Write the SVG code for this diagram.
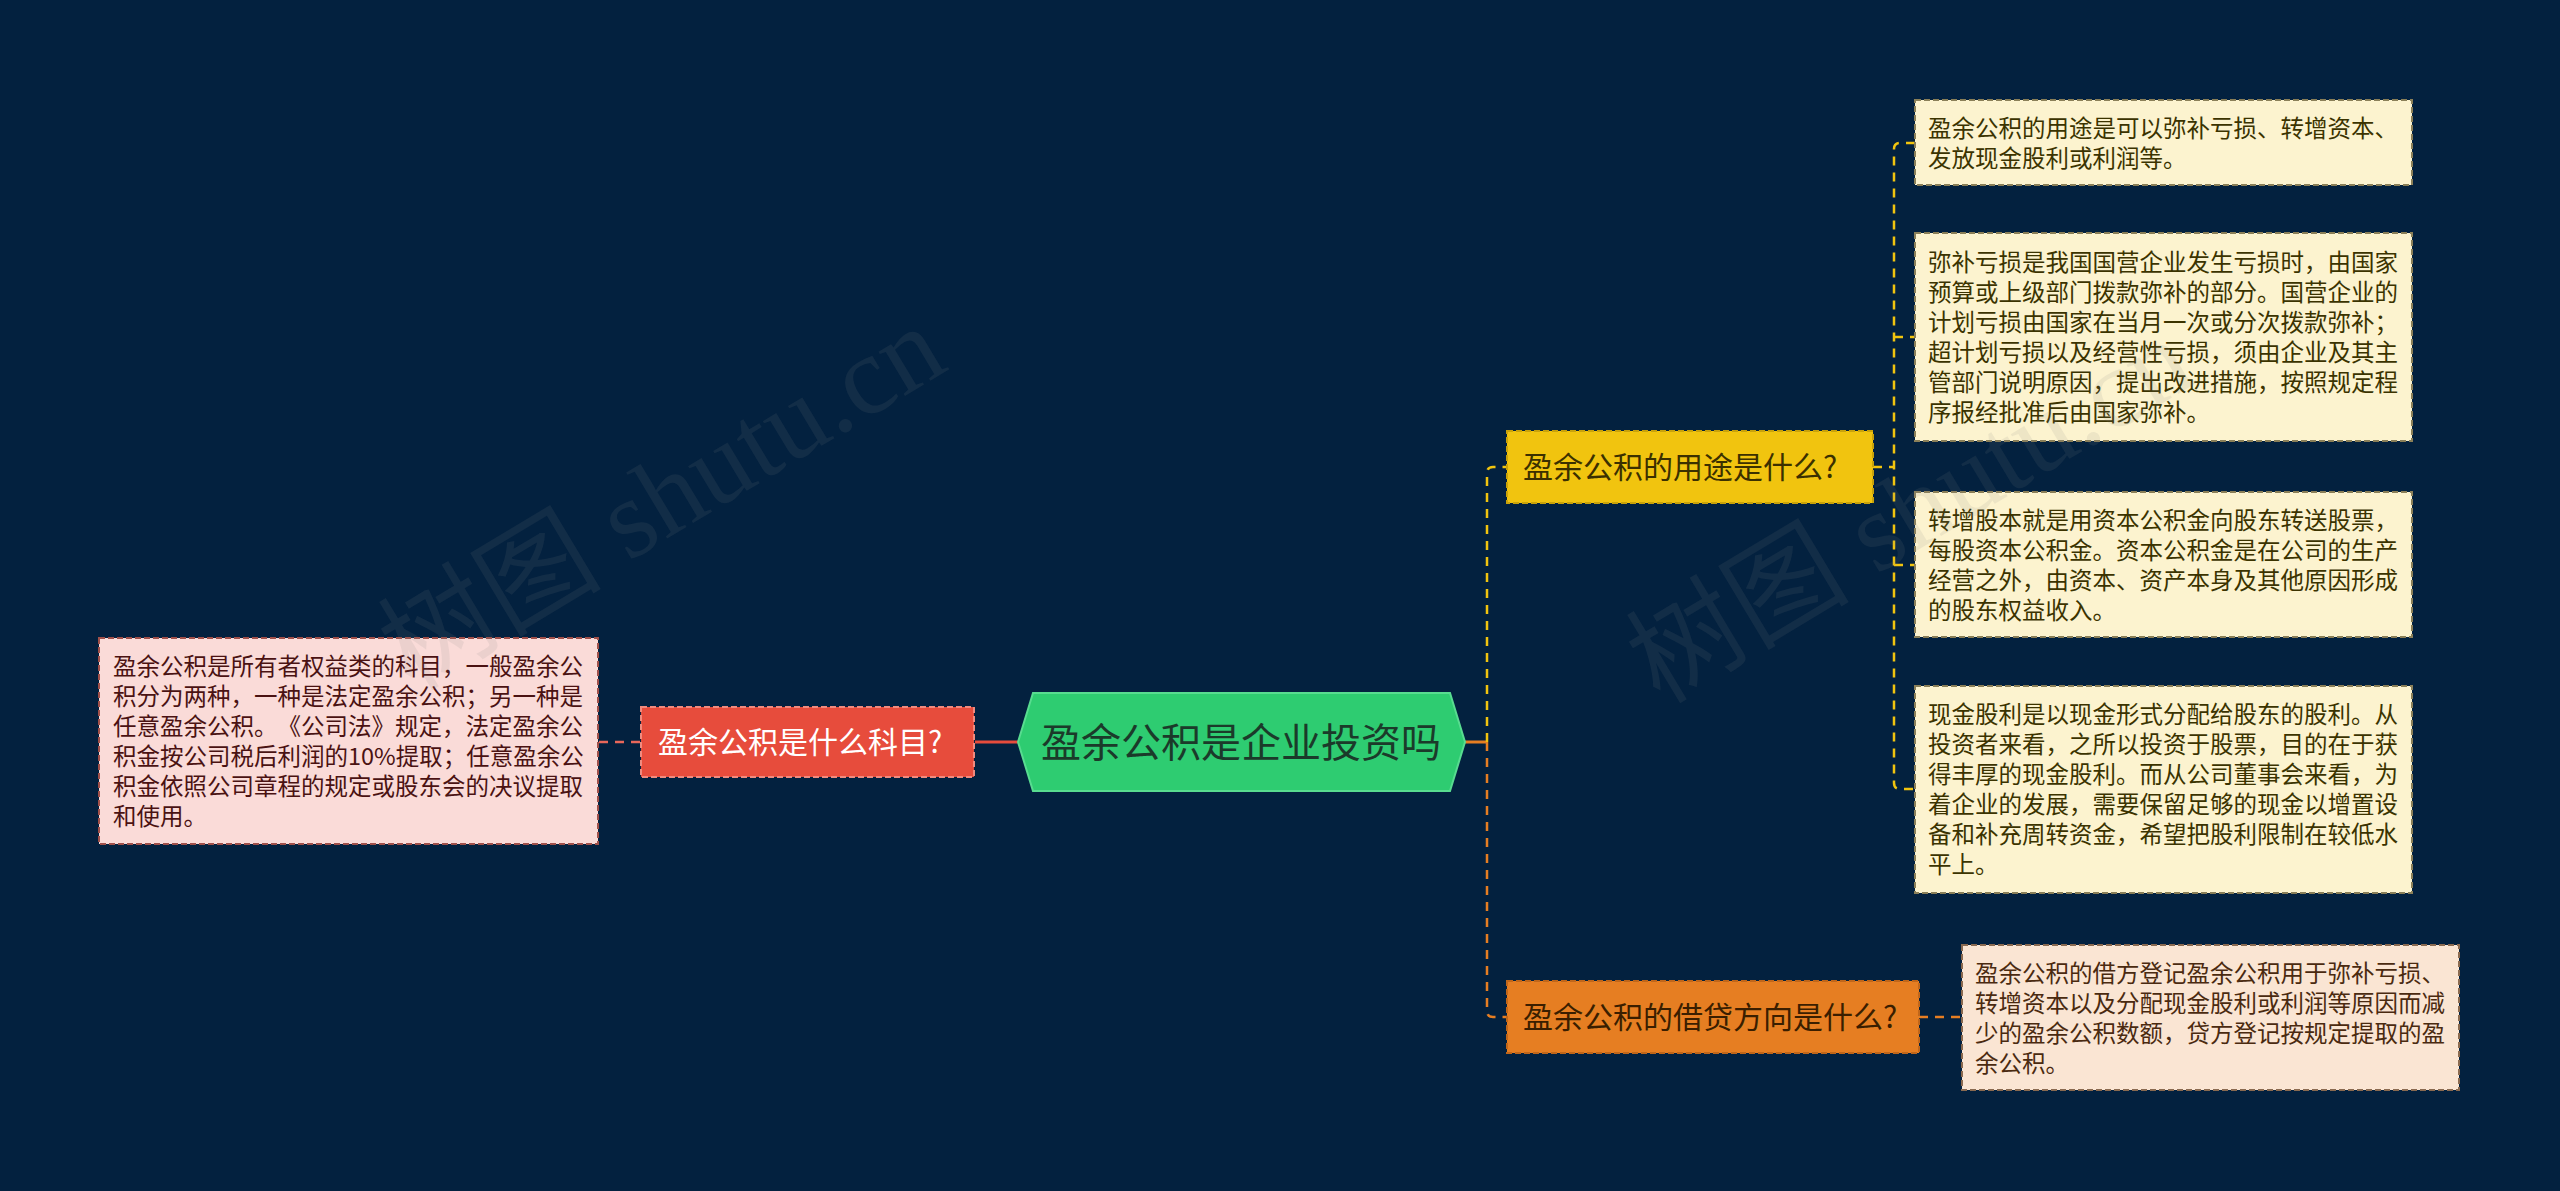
<svg xmlns="http://www.w3.org/2000/svg" width="2560" height="1191" viewBox="0 0 2560 1191">
<style>
text{font-family:"Noto Sans CJK SC","Noto Sans",sans-serif;text-spacing-trim:space-all;}
.t{font-size:23.5px;}
.n{font-size:30px;}
.box{stroke-width:2;stroke-dasharray:6 3;}
.dash{fill:none;stroke-width:2.5;stroke-dasharray:9 7;}
.wm{font-family:"Liberation Serif","Noto Sans CJK SC",serif;font-size:112px;fill:#808080;fill-opacity:0.12;}
</style>
<rect width="2560" height="1191" fill="#03213f"/>
<g id="connectors">
<path d="M1018 742H975" stroke="#e74c3c" stroke-width="3" fill="none"/>
<path class="dash" d="M640 742H598" stroke="#e8675a"/>
<path d="M1465 742H1487" stroke="#e67e22" stroke-width="3" fill="none"/>
<path class="dash" d="M1487 742V473Q1487 467 1493 467H1507" stroke="#f1c40f" stroke-width="3"/>
<path class="dash" d="M1487 742V1011Q1487 1017 1493 1017H1507" stroke="#e67e22" stroke-width="3"/>
<path class="dash" d="M1873 467H1894" stroke="#f1c40f"/>
<path class="dash" d="M1915 143H1900Q1894 143 1894 149V783Q1894 789 1900 789H1915" stroke="#f1c40f"/>
<path class="dash" d="M1894 337H1915M1894 565H1915" stroke="#f1c40f"/>
<path class="dash" d="M1919 1017H1962" stroke="#e67e22"/>
</g>
<g id="center">
<polygon points="1018,742 1033,693 1450,693 1465,742 1450,791 1033,791" fill="#2ecc71" stroke="#58dc90" stroke-width="2"/>
<text x="1241" y="757" font-size="40" text-anchor="middle" fill="#1b3a2a">盈余公积是企业投资吗</text>
</g>
<g id="node-kemu">
<rect class="box" x="641" y="707" width="333" height="70" fill="#e74c3c" stroke="#f08a7e"/>
<text class="n" x="658" y="753" fill="#ffffff">盈余公积是什么科目?</text>
</g>
<g id="leaf-kemu">
<rect class="box" x="99" y="638" width="499" height="206" fill="#fadbd8" stroke="#a0504a"/>
<text class="t" fill="#4a1212"><tspan x="113" y="675">盈余公积是所有者权益类的科目，一般盈余公</tspan><tspan x="113" y="705">积分为两种，一种是法定盈余公积；另一种是</tspan><tspan x="113" y="735">任意盈余公积。《公司法》规定，法定盈余公</tspan><tspan x="113" y="765">积金按公司税后利润的10%提取；任意盈余公</tspan><tspan x="113" y="795">积金依照公司章程的规定或股东会的决议提取</tspan><tspan x="113" y="825">和使用。</tspan></text>
</g>
<g id="node-yongtu">
<rect class="box" x="1507" y="431" width="366" height="72" fill="#f1c40f" stroke="#c9a20a"/>
<text class="n" x="1523" y="478" fill="#3b3000">盈余公积的用途是什么?</text>
</g>
<g id="node-jiedai">
<rect class="box" x="1507" y="981" width="412" height="72" fill="#e67e22" stroke="#c0661a"/>
<text class="n" x="1523" y="1028" fill="#3a1e00">盈余公积的借贷方向是什么?</text>
</g>
<g id="leaf-1">
<rect class="box" x="1915" y="100" width="497" height="85" fill="#fcf3cf" stroke="#8a7f58"/>
<text class="t" fill="#3b3300"><tspan x="1928" y="137">盈余公积的用途是可以弥补亏损、转增资本、</tspan><tspan x="1928" y="167">发放现金股利或利润等。</tspan></text>
</g>
<g id="leaf-2">
<rect class="box" x="1915" y="233" width="497" height="208" fill="#fcf3cf" stroke="#8a7f58"/>
<text class="t" fill="#3b3300"><tspan x="1928" y="271">弥补亏损是我国国营企业发生亏损时，由国家</tspan><tspan x="1928" y="301">预算或上级部门拨款弥补的部分。国营企业的</tspan><tspan x="1928" y="331">计划亏损由国家在当月一次或分次拨款弥补；</tspan><tspan x="1928" y="361">超计划亏损以及经营性亏损，须由企业及其主</tspan><tspan x="1928" y="391">管部门说明原因，提出改进措施，按照规定程</tspan><tspan x="1928" y="421">序报经批准后由国家弥补。</tspan></text>
</g>
<g id="leaf-3">
<rect class="box" x="1915" y="492" width="497" height="145" fill="#fcf3cf" stroke="#8a7f58"/>
<text class="t" fill="#3b3300"><tspan x="1928" y="529">转增股本就是用资本公积金向股东转送股票，</tspan><tspan x="1928" y="559">每股资本公积金。资本公积金是在公司的生产</tspan><tspan x="1928" y="589">经营之外，由资本、资产本身及其他原因形成</tspan><tspan x="1928" y="619">的股东权益收入。</tspan></text>
</g>
<g id="leaf-4">
<rect class="box" x="1915" y="686" width="497" height="207" fill="#fcf3cf" stroke="#8a7f58"/>
<text class="t" fill="#3b3300"><tspan x="1928" y="723">现金股利是以现金形式分配给股东的股利。从</tspan><tspan x="1928" y="753">投资者来看，之所以投资于股票，目的在于获</tspan><tspan x="1928" y="783">得丰厚的现金股利。而从公司董事会来看，为</tspan><tspan x="1928" y="813">着企业的发展，需要保留足够的现金以增置设</tspan><tspan x="1928" y="843">备和补充周转资金，希望把股利限制在较低水</tspan><tspan x="1928" y="873">平上。</tspan></text>
</g>
<g id="leaf-5">
<rect class="box" x="1962" y="945" width="497" height="145" fill="#fae5d3" stroke="#8a6a50"/>
<text class="t" fill="#4a2a10"><tspan x="1975" y="982">盈余公积的借方登记盈余公积用于弥补亏损、</tspan><tspan x="1975" y="1012">转增资本以及分配现金股利或利润等原因而减</tspan><tspan x="1975" y="1042">少的盈余公积数额，贷方登记按规定提取的盈</tspan><tspan x="1975" y="1072">余公积。</tspan></text>
</g>
<g id="watermark">
<text class="wm" transform="translate(412 692) rotate(-31)">树图 shutu.cn</text>
<text class="wm" transform="translate(1660 705) rotate(-31)">树图 shutu.cn</text>
</g>
</svg>
